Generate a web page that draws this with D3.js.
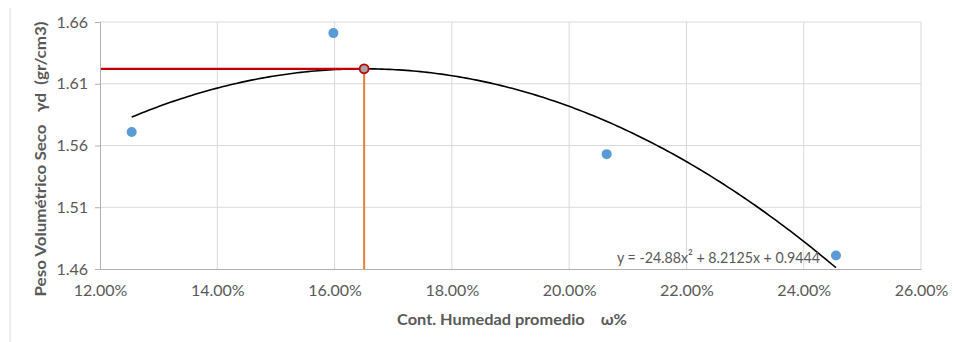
<!DOCTYPE html>
<html>
<head>
<meta charset="utf-8">
<script src="https://cdn.jsdelivr.net/npm/d3@7/dist/d3.min.js"></script>
<style>
  html, body { margin: 0; padding: 0; background: #fff; }
  svg { display: block; }
  text { font-family: Lato, "Open Sans", sans-serif; fill: #595959; }
</style>
</head>
<body>
<svg id="chart" width="955" height="342"></svg>
<script>
// Compaction test: moisture content (fraction) vs dry unit weight (gr/cm3)
const moisture = [0.1254, 0.1598, 0.2064, 0.2455];
const dryDensity = [1.571, 1.651, 1.553, 1.471];

// Polynomial trendline: y = a x^2 + b x + c
const trendCoef = [-24.88, 8.2125, 0.9444];
const trendLabel = "y = -24.88x² + 8.2125x + 0.9444";

const xTicks = [0.12, 0.14, 0.16, 0.18, 0.20, 0.22, 0.24, 0.26];
const yTicks = [1.46, 1.51, 1.56, 1.61, 1.66];

const xTitle = "Cont. Humedad promedio    ω%";
const yTitle = "Peso Volumétrico Seco   γd  (gr/cm3)";

const svg = d3.select("#chart");
const plot = { left: 100, right: 921, top: 22, bottom: 269 };

const x = d3.scaleLinear().domain([0.12, 0.26]).range([plot.left, plot.right]);
const y = d3.scaleLinear().domain([1.46, 1.66]).range([plot.bottom, plot.top]);

// outer frame edge
svg.append("line")
  .attr("x1", 10).attr("x2", 10).attr("y1", 8).attr("y2", 342)
  .attr("stroke", "#d9d9d9").attr("stroke-width", 1);

// gridlines
svg.append("g").selectAll("line").data(xTicks.slice(1)).join("line")
  .attr("x1", d => x(d)).attr("x2", d => x(d))
  .attr("y1", plot.top).attr("y2", plot.bottom)
  .attr("stroke", "#d9d9d9").attr("stroke-width", 1);
svg.append("g").selectAll("line").data(yTicks.slice(1)).join("line")
  .attr("x1", plot.left).attr("x2", plot.right)
  .attr("y1", d => y(d)).attr("y2", d => y(d))
  .attr("stroke", "#d9d9d9").attr("stroke-width", 1);

// axes
const yAxis = d3.axisLeft(y).tickValues(yTicks).tickFormat(d3.format(".2f"))
  .tickSize(5).tickPadding(7);
const gy = svg.append("g").attr("transform", `translate(${plot.left},0)`).call(yAxis);
gy.attr("font-family", null);
gy.select(".domain").attr("stroke", "#b0b0b0");
gy.selectAll(".tick line").attr("stroke", "#b0b0b0");
gy.selectAll("text").attr("font-size", 16).attr("fill", "#595959");

const xAxis = d3.axisBottom(x).tickValues(xTicks).tickFormat(d3.format(".2%"))
  .tickSize(0).tickPadding(16);
const gx = svg.append("g").attr("transform", `translate(0,${plot.bottom})`).call(xAxis);
gx.attr("font-family", null);
gx.select(".domain").attr("stroke", "#b0b0b0");
gx.selectAll("text").attr("font-size", 16).attr("fill", "#595959");

// axis titles
svg.append("text")
  .attr("x", 512).attr("y", 325)
  .attr("text-anchor", "middle").attr("font-size", 16).attr("font-weight", "bold")
  .attr("textLength", 230).attr("lengthAdjust", "spacingAndGlyphs")
  .style("white-space", "pre")
  .text(xTitle);
svg.append("text")
  .attr("transform", "translate(46,159) rotate(-90)")
  .attr("text-anchor", "middle").attr("font-size", 16).attr("font-weight", "bold")
  .attr("textLength", 275).attr("lengthAdjust", "spacingAndGlyphs")
  .style("white-space", "pre")
  .text(yTitle);

// trendline, drawn over the measured range
const poly = t => trendCoef[0] * t * t + trendCoef[1] * t + trendCoef[2];
const [xMin, xMax] = d3.extent(moisture);
const curve = d3.range(0, 201).map(i => {
  const t = xMin + (xMax - xMin) * i / 200;
  return [t, poly(t)];
});
svg.append("path")
  .datum(curve)
  .attr("d", d3.line().x(d => x(d[0])).y(d => y(d[1])))
  .attr("fill", "none").attr("stroke", "#000").attr("stroke-width", 1.6);

// optimum from the trendline vertex
const wOpt = -trendCoef[1] / (2 * trendCoef[0]);
const dOpt = poly(wOpt);

svg.append("line")
  .attr("x1", x(wOpt)).attr("x2", x(wOpt))
  .attr("y1", y(dOpt)).attr("y2", plot.bottom)
  .attr("stroke", "#ed7d31").attr("stroke-width", 2);
svg.append("line")
  .attr("x1", plot.left + 1).attr("x2", x(wOpt))
  .attr("y1", y(dOpt)).attr("y2", y(dOpt))
  .attr("stroke", "#c00000").attr("stroke-width", 2.2);

// data points
svg.append("g").selectAll("circle").data(moisture).join("circle")
  .attr("cx", d => x(d)).attr("cy", (d, i) => y(dryDensity[i]))
  .attr("r", 5).attr("fill", "#5b9bd5");

// optimum marker
svg.append("circle")
  .attr("cx", x(wOpt)).attr("cy", y(dOpt)).attr("r", 4.5)
  .attr("fill", "#a5a5a5").attr("stroke", "#c00000").attr("stroke-width", 1.8);

// trendline equation
svg.append("text")
  .attr("x", 617).attr("y", 263)
  .attr("font-size", 16)
  .attr("textLength", 203).attr("lengthAdjust", "spacingAndGlyphs")
  .text(trendLabel);
</script>
</body>
</html>
